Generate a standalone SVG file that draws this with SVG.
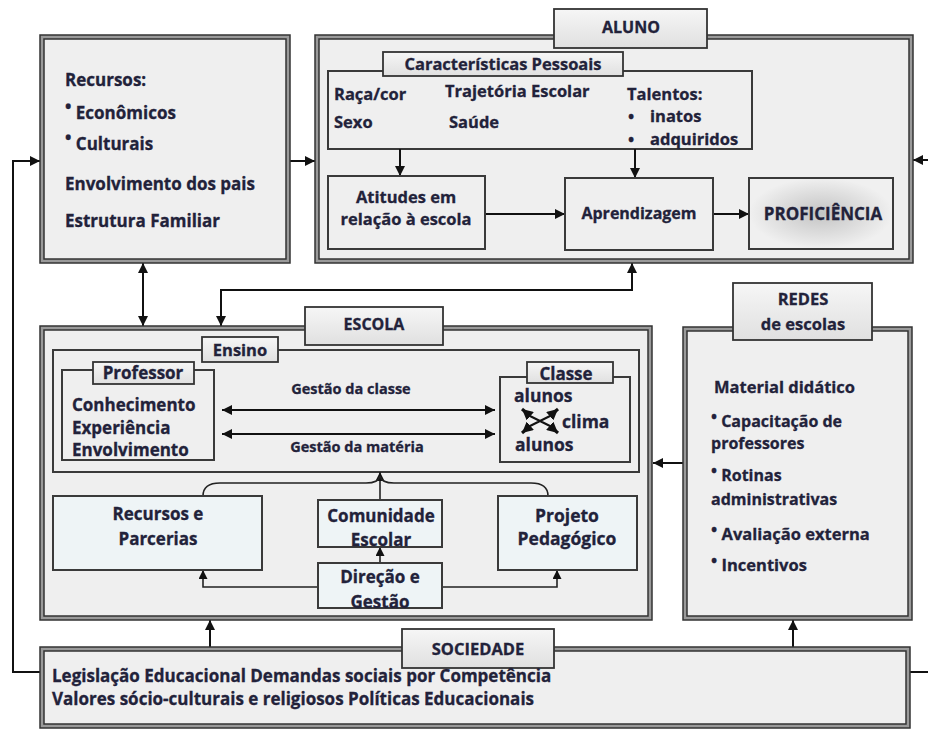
<svg xmlns="http://www.w3.org/2000/svg" width="928" height="729" viewBox="0 0 928 729">
<style>
text{font-family:"Open Sans","Noto Sans","Liberation Sans",sans-serif;font-weight:bold;fill:#22223a;stroke:#22223a;stroke-width:0.3}
.s14{font-size:14.5px}
.s16{font-size:16px}
.s165{font-size:16.5px}
.s17{font-size:17px}
.s175{font-size:17.5px}
.mid{text-anchor:middle}
.fo{fill:#9a9a9a;stroke:#333;stroke-width:1.5}
.fi{fill:#efefef;stroke:#333;stroke-width:1.5}
.tab{fill:url(#tabg);stroke:#333;stroke-width:1.8}
.box{fill:#efefef;stroke:#3a3a3a;stroke-width:2}
.lbox{fill:#eef4f6;stroke:#3a3a3a;stroke-width:2}
.c{fill:none;stroke:#111;stroke-width:2}
.ci{fill:none;stroke:#222;stroke-width:1.6}
</style>
<defs>
<linearGradient id="tabg" x1="0" y1="0" x2="0" y2="1">
<stop offset="0" stop-color="#f6f6f6"/><stop offset="1" stop-color="#e0e0e0"/>
</linearGradient>
<radialGradient id="profg" cx="0.5" cy="0.5" r="0.5">
<stop offset="0" stop-color="#c4c4c4"/><stop offset="0.6" stop-color="#dedede"/><stop offset="1" stop-color="#f0f0f0"/>
</radialGradient>
<marker id="a" viewBox="0 0 10 10" refX="10" refY="5" markerWidth="10" markerHeight="10" markerUnits="userSpaceOnUse" orient="auto-start-reverse">
<path d="M0,0 L10,5 L0,10 z" fill="#111"/>
</marker>
<marker id="as" viewBox="0 0 10 10" refX="10" refY="5" markerWidth="9" markerHeight="9" markerUnits="userSpaceOnUse" orient="auto-start-reverse">
<path d="M0,0 L10,5 L0,10 z" fill="#111"/>
</marker>
<marker id="ax" viewBox="0 0 10 10" refX="10" refY="5" markerWidth="11" markerHeight="11" markerUnits="userSpaceOnUse" orient="auto-start-reverse">
<path d="M0,0 L10,5 L0,10 z" fill="#111"/>
</marker>
</defs>
<rect width="928" height="729" fill="#fff"/>

<g id="connectors">
<path class="c" d="M40,672 H13 V161 H40" marker-end="url(#a)"/>
<path class="c" d="M290,161 H315" marker-end="url(#a)"/>
<path class="c" d="M928,160 H913" marker-end="url(#a)"/>
<path class="c" d="M143,263 V326" marker-start="url(#a)" marker-end="url(#a)"/>
<path class="c" d="M632,263 V290 H221 V326" marker-start="url(#a)" marker-end="url(#a)"/>
<path class="c" d="M683,463 H653" marker-end="url(#a)"/>
<path class="c" d="M210,647 V620" marker-end="url(#a)"/>
<path class="c" d="M793,647 V620" marker-end="url(#a)"/>
<path class="c" d="M910,672 H928"/>
</g>

<g id="familia">
<rect class="fo" x="40" y="35" width="250" height="228"/>
<rect class="fi" x="44" y="39" width="242" height="220"/>
<text class="s17" x="65" y="86">Recursos:</text>
<text class="s17" x="65" y="119"><tspan dy="-6">•</tspan><tspan dy="6"> Econômicos</tspan></text>
<text class="s17" x="65" y="150"><tspan dy="-6">•</tspan><tspan dy="6"> Culturais</tspan></text>
<text class="s17" x="65" y="190">Envolvimento dos pais</text>
<text class="s17" x="65" y="227">Estrutura Familiar</text>
</g>

<g id="aluno">
<rect class="fo" x="315" y="35" width="598" height="228"/>
<rect class="fi" x="319" y="39" width="590" height="220"/>
<rect class="tab" x="554" y="9" width="153" height="39"/>
<text class="s16 mid" x="631" y="33">ALUNO</text>
</g>

<g id="caracteristicas">
<rect class="box" x="328" y="71" width="424" height="78"/>
<rect class="tab" x="383" y="52" width="240" height="24"/>
<text class="s165 mid" x="503" y="70">Características Pessoais</text>
<text class="s165" x="334" y="100">Raça/cor</text>
<text class="s165" x="445" y="97">Trajetória Escolar</text>
<text class="s165" x="334" y="128">Sexo</text>
<text class="s165" x="449" y="128">Saúde</text>
<text class="s165" x="627" y="100">Talentos:</text>
<text class="s165" x="628" y="122">•<tspan x="650">inatos</tspan></text>
<text class="s165" x="628" y="145">•<tspan x="650">adquiridos</tspan></text>
</g>

<g id="aluno-inner-connectors">
<path class="c" d="M400,149 V176" marker-end="url(#a)"/>
<path class="c" d="M635,149 V178" marker-end="url(#a)"/>
<path class="c" d="M485,214 H565" marker-end="url(#a)"/>
<path class="c" d="M713,214 H749" marker-end="url(#a)"/>
</g>

<g id="atitudes">
<rect class="box" x="328" y="176" width="157" height="73"/>
<text class="s165 mid" x="406" y="203">Atitudes em</text>
<text class="s165 mid" x="406" y="225">relação à escola</text>
</g>

<g id="aprendizagem">
<rect class="box" x="565" y="178" width="148" height="72"/>
<text class="s16 mid" x="639" y="219">Aprendizagem</text>
</g>

<g id="proficiencia">
<rect class="box" x="749" y="178" width="144" height="71" style="fill:url(#profg)"/>
<text class="s17 mid" x="823" y="220">PROFICIÊNCIA</text>
</g>

<g id="escola">
<rect class="fo" x="40" y="326" width="612" height="294"/>
<rect class="fi" x="44" y="330" width="604" height="286"/>
<rect class="tab" x="305" y="307" width="138" height="38"/>
<text class="s16 mid" x="374" y="330">ESCOLA</text>
</g>

<g id="ensino">
<rect class="box" x="53" y="350" width="586" height="122"/>
<rect class="tab" x="202" y="337" width="76" height="25"/>
<text class="s165 mid" x="240" y="356">Ensino</text>
</g>

<g id="professor">
<rect class="box" x="62" y="370" width="152" height="90"/>
<rect class="tab" x="93" y="362" width="101" height="22"/>
<text class="s17 mid" x="143" y="379">Professor</text>
<text class="s17" x="72" y="411">Conhecimento</text>
<text class="s17" x="72" y="434">Experiência</text>
<text class="s17" x="72" y="456">Envolvimento</text>
</g>

<g id="gestao">
<path class="c" d="M222,410 H495" marker-start="url(#a)" marker-end="url(#a)"/>
<path class="c" d="M222,434 H495" marker-start="url(#a)" marker-end="url(#a)"/>
<text class="s14 mid" x="351" y="394">Gestão da classe</text>
<text class="s14 mid" x="357" y="452">Gestão da matéria</text>
</g>

<g id="classe">
<rect class="box" x="500" y="377" width="130" height="85"/>
<rect class="tab" x="527" y="362" width="86" height="21"/>
<text class="s17 mid" x="566" y="380">Classe</text>
<text class="s175" x="514" y="402">alunos</text>
<text class="s175" x="562" y="428">clima</text>
<text class="s175" x="515" y="451">alunos</text>
<path d="M530,416 L522,409" stroke="#111" stroke-width="3" fill="none" marker-end="url(#ax)"/>
<path d="M550,416 L558,409" stroke="#111" stroke-width="3" fill="none" marker-end="url(#ax)"/>
<path d="M530,426 L522,433" stroke="#111" stroke-width="3" fill="none" marker-end="url(#ax)"/>
<path d="M550,426 L558,433" stroke="#111" stroke-width="3" fill="none" marker-end="url(#ax)"/>
<path d="M530,416 L550,426 M550,416 L530,426" stroke="#111" stroke-width="2" fill="none"/>
</g>

<g id="escola-inner-connectors">
<path class="ci" d="M380,500 V472" marker-end="url(#as)"/>
<path class="ci" d="M203,496 C203,487 209,483 220,483 H366 C375,483 379,481 380,476"/>
<path class="ci" d="M548,496 C548,487 542,483 531,483 H394 C385,483 381,481 380,476"/>
<path class="ci" d="M318,587 H203 V570" marker-end="url(#as)"/>
<path class="ci" d="M442,587 H557 V570" marker-end="url(#as)"/>
<path class="ci" d="M380,563 V547" marker-end="url(#as)"/>
</g>

<g id="recursos-parcerias">
<rect class="lbox" x="53" y="496" width="209" height="74"/>
<text class="s17 mid" x="158" y="520">Recursos e</text>
<text class="s17 mid" x="158" y="545">Parcerias</text>
</g>

<g id="comunidade">
<rect class="lbox" x="318" y="500" width="124" height="47"/>
<text class="s17 mid" x="381" y="522">Comunidade</text>
<text class="s17 mid" x="381" y="546">Escolar</text>
</g>

<g id="direcao">
<rect class="lbox" x="318" y="563" width="124" height="45"/>
<text class="s17 mid" x="380" y="583">Direção e</text>
<text class="s17 mid" x="380" y="608">Gestão</text>
</g>

<g id="projeto">
<rect class="lbox" x="498" y="496" width="139" height="74"/>
<text class="s175 mid" x="567" y="522">Projeto</text>
<text class="s175 mid" x="567" y="545">Pedagógico</text>
</g>

<g id="redes">
<rect class="fo" x="683" y="327" width="229" height="293"/>
<rect class="fi" x="687" y="331" width="221" height="285"/>
<rect class="tab" x="733" y="283" width="139" height="57"/>
<text class="s165 mid" x="803" y="305">REDES</text>
<text class="s165 mid" x="803" y="330">de escolas</text>
<text class="s165" x="714" y="393">Material didático</text>
<text class="s16" x="711" y="427"><tspan dy="-5">•</tspan><tspan dy="5"> Capacitação de</tspan></text>
<text class="s16" x="711" y="449">professores</text>
<text class="s16" x="711" y="481"><tspan dy="-5">•</tspan><tspan dy="5"> Rotinas</tspan></text>
<text class="s16" x="711" y="505">administrativas</text>
<text class="s165" x="711" y="540"><tspan dy="-5">•</tspan><tspan dy="5"> Avaliação externa</tspan></text>
<text class="s165" x="711" y="571"><tspan dy="-5">•</tspan><tspan dy="5"> Incentivos</tspan></text>
</g>

<g id="sociedade">
<rect class="fo" x="40" y="647" width="870" height="81"/>
<rect class="fi" x="44" y="651" width="862" height="73"/>
<rect class="tab" x="402" y="629" width="152" height="39"/>
<text class="s165 mid" x="478" y="655">SOCIEDADE</text>
<text class="s17" x="52" y="682">Legislação Educacional Demandas sociais por Competência</text>
<text class="s17" x="52" y="705">Valores sócio-culturais e religiosos Políticas Educacionais</text>
</g>
</svg>
